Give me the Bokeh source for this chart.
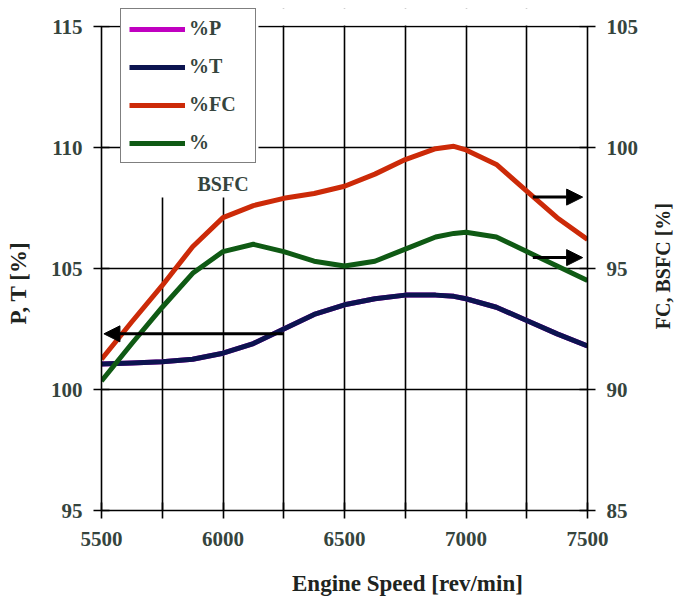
import math
from bokeh.plotting import figure
from bokeh.models import (Range1d, LinearAxis, FixedTicker, Legend, LegendItem,
                          Label, Arrow, NormalHead, BoxAnnotation)
from bokeh.embed import file_html
from bokeh.resources import INLINE

# ---------------- data ----------------
speed = [5500, 5625, 5750, 5875, 6000, 6125, 6250, 6375, 6500, 6625, 6750, 6875, 6950, 7000, 7125, 7250, 7375, 7500]
# left axis (P, T %)
pct_T = [101.05, 101.1, 101.15, 101.25, 101.5, 101.9, 102.5, 103.1, 103.5, 103.75, 103.9, 103.9, 103.85, 103.75, 103.4, 102.85, 102.3, 101.8]
pct_P = list(pct_T)
# right axis (FC, BSFC %)
pct_FC = [91.25, 92.8, 94.3, 95.9, 97.1, 97.6, 97.9, 98.1, 98.4, 98.9, 99.5, 99.95, 100.05, 99.9, 99.3, 98.2, 97.1, 96.2]
pct_BSFC = [90.35, 91.9, 93.4, 94.8, 95.7, 96.0, 95.7, 95.3, 95.1, 95.3, 95.8, 96.3, 96.45, 96.5, 96.3, 95.7, 95.1, 94.5]

x_major = [5500, 6000, 6500, 7000, 7500]
x_minor = [5750, 6250, 6750, 7250]
left_ticks = [95, 100, 105, 110, 115]
right_ticks = [85, 90, 95, 100, 105]

FONT = "Liberation Serif"
TICK_COLOR = "#35443d"
LABEL_COLOR = "#1e2420"

PX_PER_UNIT = 24.2
EXTRA_TOP = 18 / PX_PER_UNIT   # frame extends above 115 so the legend can sit there

p = figure(frame_width=486, frame_height=502,
           min_border_left=101, min_border_right=89, min_border_top=8, min_border_bottom=91,
           x_range=Range1d(5500, 7500), y_range=Range1d(95, 115 + EXTRA_TOP),
           output_backend="svg", toolbar_location=None,
           background_fill_color="white", border_fill_color="white")
p.outline_line_color = None
p.extra_y_ranges = {"right": Range1d(85, 105 + EXTRA_TOP)}

# grids
p.xgrid.ticker = FixedTicker(ticks=x_major, minor_ticks=x_minor)
p.xgrid.grid_line_color = "black"
p.xgrid.grid_line_width = 1.6
p.xgrid.minor_grid_line_color = "black"
p.xgrid.minor_grid_line_width = 1.6
p.ygrid.ticker = FixedTicker(ticks=left_ticks)
p.ygrid.grid_line_color = "black"
p.ygrid.grid_line_width = 1.6

def style_axis(ax):
    ax.axis_line_color = "black"
    ax.axis_line_width = 1.6
    ax.major_tick_line_color = "black"
    ax.major_tick_line_width = 1.6
    ax.major_tick_in = 8
    ax.major_tick_out = 8
    ax.minor_tick_line_color = "black"
    ax.minor_tick_line_width = 1.6
    ax.minor_tick_in = 8
    ax.minor_tick_out = 8
    ax.major_label_text_font = FONT
    ax.major_label_text_font_style = "bold"
    ax.major_label_text_font_size = "21px"
    ax.major_label_text_color = TICK_COLOR

xa = p.xaxis[0]
xa.ticker = FixedTicker(ticks=x_major, minor_ticks=x_minor)
style_axis(xa)
xa.major_label_standoff = 13

ya = p.yaxis[0]
ya.ticker = FixedTicker(ticks=left_ticks)
style_axis(ya)
ya.bounds = (95, 115)
ya.minor_tick_line_color = None
ya.major_label_standoff = 11

ra = LinearAxis(y_range_name="right", ticker=FixedTicker(ticks=right_ticks))
style_axis(ra)
ra.bounds = (85, 105)
ra.minor_tick_line_color = None
ra.major_label_standoff = 11
p.add_layout(ra, "right")

# axis titles as labels placed in the side panels
title_style = dict(text_font=FONT, text_font_style="bold", text_color=LABEL_COLOR,
                   text_align="center", text_baseline="middle")
p.add_layout(Label(x=5158, y=104.4, text="P, T [%]", angle=math.pi / 2,
                   text_font_size="23px", **title_style), "left")
p.add_layout(Label(x=7811, y=105.1, text="FC, BSFC [%]", angle=math.pi / 2,
                   text_font_size="20px", **title_style), "right")
p.add_layout(Label(x=6759, y=92.0, text="Engine Speed [rev/min]",
                   text_font_size="23px", **title_style), "below")

# curves
rP = p.line(speed, pct_P, line_color="#c000c0", line_width=5)
rT = p.line(speed, pct_T, line_color="#0c1450", line_width=5)
rFC = p.line(speed, pct_FC, line_color="#cc2a08", line_width=5, y_range_name="right")
rBS = p.line(speed, pct_BSFC, line_color="#0f5a14", line_width=5, y_range_name="right")

# arrows
p.add_layout(Arrow(end=NormalHead(size=16, fill_color="black", line_color="black"),
                   x_start=6250, y_start=102.3, x_end=5510, y_end=102.3,
                   line_width=3, line_color="black"))
p.add_layout(Arrow(end=NormalHead(size=16, fill_color="black", line_color="black"),
                   x_start=7275, y_start=97.95, x_end=7480, y_end=97.95,
                   line_width=3, line_color="black", y_range_name="right"))
p.add_layout(Arrow(end=NormalHead(size=16, fill_color="black", line_color="black"),
                   x_start=7275, y_start=95.45, x_end=7480, y_end=95.45,
                   line_width=3, line_color="black", y_range_name="right"))

# blank strip above the 115 line, and white area behind legend / BSFC label
p.add_layout(BoxAnnotation(bottom=115.04, top=None, left=None, right=None,
                           fill_color="white", fill_alpha=1.0, line_color=None))
p.add_layout(BoxAnnotation(left=5578, right=6146, bottom=107.93, top=None,
                           fill_color="white", fill_alpha=1.0, line_color=None))

legend = Legend(items=[LegendItem(label="%P", renderers=[rP]),
                       LegendItem(label="%T", renderers=[rT]),
                       LegendItem(label="%FC", renderers=[rFC]),
                       LegendItem(label="%", renderers=[rBS])],
                location=(19, 347), orientation="vertical",
                background_fill_color="white", background_fill_alpha=1.0,
                border_line_color="black", border_line_width=1.5,
                glyph_width=56, glyph_height=20, label_height=20, label_width=58,
                spacing=15, padding=8, margin=0, label_standoff=4,
                label_text_font=FONT, label_text_font_style="bold",
                label_text_font_size="20px", label_text_color=TICK_COLOR)
p.add_layout(legend, "center")

p.add_layout(Label(x=5895, y=108.5, text="BSFC", text_font=FONT, text_font_style="bold",
                   text_font_size="20px", text_color=TICK_COLOR,
                   text_align="left", text_baseline="middle"))

open("out.html", "w").write(file_html(p, INLINE))
